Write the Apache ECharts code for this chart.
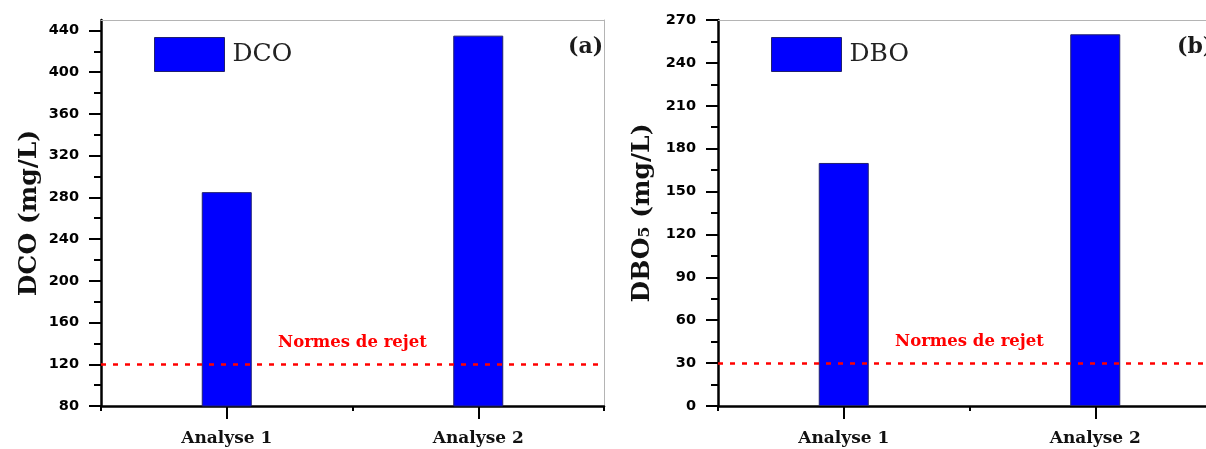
<!DOCTYPE html>
<html>
<head>
<meta charset="utf-8">
<script src="https://cdn.jsdelivr.net/npm/echarts@6/dist/echarts.min.js"></script>
<style>
html,body{margin:0;padding:0;background:#fff;overflow:hidden;width:1206px;height:449px;}
#chart{width:1240px;height:449px;}
</style>
</head>
<body>
<div id="chart"></div>
<script>
// ---- data ----
const categories = ['Analyse 1', 'Analyse 2'];
const dcoValues = [285, 435];
const dboValues = [170, 260];
const dcoNorm = 120;
const dboNorm = 30;
const normLabel = 'Normes de rejet';
const dcoRange = [80, 450];
const dboRange = [0, 270];
const dcoTicks = [80, 120, 160, 200, 240, 280, 320, 360, 400, 440];
const dcoMinorTicks = [100, 140, 180, 220, 260, 300, 340, 380, 420];
const dboTicks = [0, 30, 60, 90, 120, 150, 180, 210, 240, 270];
const dboMinorTicks = [15, 45, 75, 105, 135, 165, 195, 225, 255];
const panelTags = ['(a)', '(b)'];
const seriesNames = ['DCO', 'DBO'];
const axisNames = ['DCO (mg/L)', 'DBO\u2085 (mg/L)'];

// ---- layout/style ----
const SERIF = '"DejaVu Serif", serif';
const SANS = '"DejaVu Sans", sans-serif';
const panels = [
  { left: 101, values: dcoValues, norm: dcoNorm, range: dcoRange, ticks: dcoTicks, minor: dcoMinorTicks, name: seriesNames[0], yName: axisNames[0], nameGap: 59, legendLeft: 149, tagX: 568 },
  { left: 718, values: dboValues, norm: dboNorm, range: dboRange, ticks: dboTicks, minor: dboMinorTicks, name: seriesNames[1], yName: axisNames[1], nameGap: 63, legendLeft: 766, tagX: 1177 }
];

const grid = [], xAxis = [], yAxis = [], series = [], legend = [], graphic = [];
panels.forEach((p, i) => {
  grid.push({ left: p.left, top: 20, width: 503, height: 386, containLabel: false });
  // main bottom axis (boundary short ticks)
  xAxis.push({
    type: 'category', gridIndex: i, data: categories, position: 'bottom',
    axisLine: { show: true, onZero: false, lineStyle: { color: '#000', width: 2.5 } },
    axisTick: { show: true, length: 5, lineStyle: { color: '#000', width: 2 } },
    axisLabel: { show: false }, splitLine: { show: false }
  });
  // label axis (centre long ticks)
  xAxis.push({
    type: 'category', gridIndex: i, data: categories, position: 'bottom',
    axisLine: { show: false, onZero: false },
    axisTick: { show: true, alignWithLabel: true, length: 13, lineStyle: { color: '#000', width: 2 } },
    axisLabel: { show: true, margin: 24, color: '#111', fontFamily: SERIF, fontWeight: 'bold', fontSize: 17 },
    splitLine: { show: false }
  });
  // top frame
  xAxis.push({
    type: 'category', gridIndex: i, data: categories, position: 'top',
    axisLine: { show: true, onZero: false, lineStyle: { color: '#b4b4b4', width: 1 } },
    axisTick: { show: false }, axisLabel: { show: false }, splitLine: { show: false }
  });
  // main value axis (major ticks + labels)
  yAxis.push({
    type: 'value', gridIndex: i, position: 'left',
    min: p.range[0], max: p.range[1],
    axisLine: { show: true, onZero: false, lineStyle: { color: '#000', width: 2.5 } },
    axisTick: { show: true, length: 12, customValues: p.ticks, lineStyle: { color: '#000', width: 2 } },
    splitLine: { show: false },
    axisLabel: { margin: 22, color: '#000', fontFamily: SANS, fontWeight: 'bold', fontSize: 14.5, customValues: p.ticks },
    name: p.yName, nameLocation: 'middle', nameGap: p.nameGap,
    nameTextStyle: { color: '#111', fontFamily: SERIF, fontWeight: 'bold', fontSize: 25 }
  });
  // right frame
  yAxis.push({
    type: 'value', gridIndex: i, position: 'right',
    min: p.range[0], max: p.range[1],
    axisLine: { show: true, onZero: false, lineStyle: { color: '#b4b4b4', width: 1 } },
    axisTick: { show: false }, axisLabel: { show: false }, splitLine: { show: false }
  });
  // minor ticks
  yAxis.push({
    type: 'value', gridIndex: i, position: 'left',
    min: p.range[0], max: p.range[1],
    axisLine: { show: false, onZero: false },
    axisTick: { show: true, length: 7, customValues: p.minor, lineStyle: { color: '#000', width: 2 } },
    axisLabel: { show: false }, splitLine: { show: false }
  });
  series.push({
    type: 'bar', name: p.name, xAxisIndex: i * 3, yAxisIndex: i * 3,
    data: p.values, barWidth: 50,
    itemStyle: { color: '#0000ff', borderColor: '#202070', borderWidth: 1 },
    markLine: {
      silent: true, symbol: ['none', 'none'],
      data: [{ yAxis: p.norm }],
      lineStyle: { color: '#ff0000', width: 2.5, type: [5, 7] },
      label: { show: true, formatter: normLabel, position: 'middle', distance: 13,
        color: '#ff0000', fontFamily: SERIF, fontWeight: 'bold', fontSize: 16.5 }
    }
  });
  legend.push({
    left: p.legendLeft, top: 32, orient: 'horizontal',
    data: [p.name], icon: 'rect', itemWidth: 70, itemHeight: 34,
    itemStyle: { color: '#0000ff', borderColor: '#202070', borderWidth: 1 },
    textStyle: { color: '#222', fontFamily: SERIF, fontSize: 25, padding: [0, 0, 0, 3] },
    selectedMode: false
  });
  graphic.push({
    type: 'text', x: p.tagX, y: 47,
    style: { text: panelTags[i], fill: '#1a1a1a', font: 'bold 22px ' + SERIF, verticalAlign: 'middle' }
  });
});

const chart = echarts.init(document.getElementById('chart'), null, { renderer: 'canvas' });
chart.setOption({
  animation: false,
  backgroundColor: '#fff',
  grid, xAxis, yAxis, series, legend, graphic
});
</script>
</body>
</html>
